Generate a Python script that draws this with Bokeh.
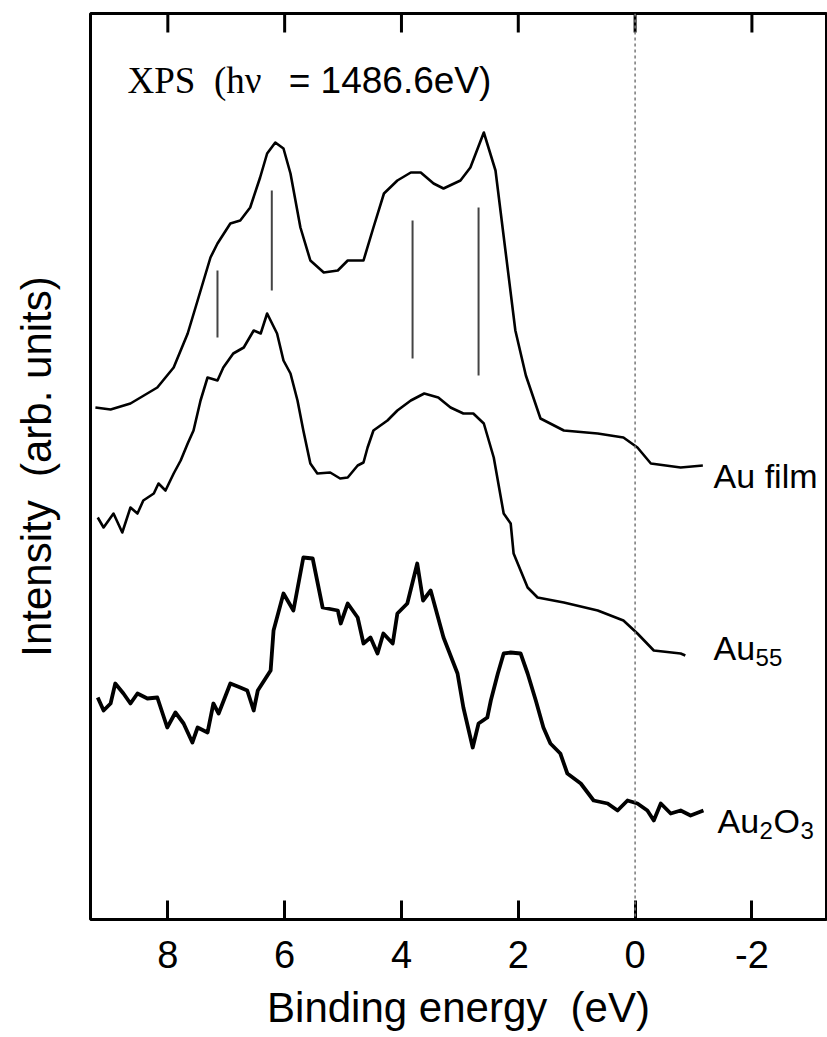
from bokeh.plotting import figure
from bokeh.models import (Range1d, FixedTicker, Span, ColumnDataSource,
                          CustomJSTickFormatter)
from bokeh.core.properties import value
from bokeh.embed import file_html
from bokeh.resources import INLINE

# ---------------- data (binding energy in eV, intensity in arb. units) ----------------
au_film_energy = [9.24, 8.98, 8.64, 8.18, 7.90, 7.66, 7.49, 7.27, 7.15, 6.93, 6.76, 6.59,
                  6.42, 6.30, 6.16, 6.02, 5.90, 5.73, 5.56, 5.33, 5.09, 4.92, 4.65, 4.48,
                  4.30, 4.07, 3.84, 3.67, 3.45, 3.28, 2.99, 2.82, 2.59, 2.39, 2.22, 2.05,
                  1.87, 1.62, 1.22, 0.64, 0.20, -0.04, -0.27, -0.78, -1.16]
au_film_intensity = [512, 510, 516, 532, 552, 586, 619, 662, 676, 696, 699, 712,
                     742, 766, 777, 771, 746, 692, 659, 647, 649, 659, 659, 692,
                     726, 739, 747, 747, 736, 731, 739, 752, 787, 749, 669, 589,
                     544, 501, 489, 486, 482, 472, 456, 452, 454]

au55_energy = [9.20, 9.10, 8.93, 8.78, 8.64, 8.52, 8.42, 8.24, 8.16, 8.04, 7.90, 7.78,
               7.66, 7.56, 7.44, 7.32, 7.15, 7.05, 6.88, 6.70, 6.53, 6.41, 6.30, 6.13,
               6.02, 5.90, 5.78, 5.68, 5.56, 5.44, 5.22, 5.05, 4.92, 4.75, 4.65, 4.58,
               4.48, 4.24, 4.07, 3.84, 3.61, 3.37, 3.16, 2.94, 2.77, 2.59, 2.42, 2.25,
               2.13, 2.08, 1.84, 1.67, 1.22, 0.64, 0.20, -0.04, -0.32, -0.78, -0.86]
au55_intensity = [402, 392, 406, 387, 412, 406, 419, 426, 436, 429, 446, 459,
                  476, 489, 519, 542, 539, 552, 566, 572, 589, 586, 606, 586,
                  559, 546, 519, 489, 456, 446, 447, 441, 442, 454, 457, 472,
                  489, 499, 509, 519, 526, 522, 512, 506, 506, 496, 462, 406,
                  396, 366, 332, 322, 317, 309, 299, 286, 269, 266, 264]

au2o3_energy = [9.20, 9.10, 8.98, 8.90, 8.76, 8.64, 8.52, 8.35, 8.18, 8.01, 7.87, 7.73,
                7.58, 7.49, 7.32, 7.22, 7.13, 6.93, 6.76, 6.64, 6.53, 6.46, 6.24, 6.19,
                6.02, 5.85, 5.68, 5.52, 5.35, 5.09, 5.04, 4.92, 4.75, 4.65, 4.53, 4.41,
                4.31, 4.15, 4.07, 3.90, 3.73, 3.63, 3.50, 3.28, 3.04, 2.94, 2.78, 2.68,
                2.53, 2.47, 2.35, 2.25, 2.13, 1.96, 1.84, 1.70, 1.57, 1.45, 1.28, 1.16,
                0.93, 0.71, 0.47, 0.30, 0.13, -0.04, -0.21, -0.32, -0.44, -0.61, -0.78,
                -0.95, -1.17]
au2o3_intensity = [222, 209, 216, 236, 226, 216, 226, 221, 222, 192, 207, 196,
                   177, 192, 187, 216, 206, 236, 232, 229, 209, 229, 249, 289,
                   326, 309, 362, 361, 312, 309, 296, 316, 302, 276, 282, 266,
                   286, 276, 306, 316, 356, 319, 329, 282, 246, 212, 172, 196,
                   202, 219, 246, 266, 267, 266, 246, 219, 192, 176, 166, 146,
                   136, 119, 116, 109, 119, 116, 109, 99, 116, 106, 109,
                   104, 109]

# vertical marker lines (peak positions of the Au film)
peak_energies = [7.15, 6.22, 3.81, 2.68]
peak_top = [649, 729, 699, 712]
peak_bottom = [582, 629, 561, 544]

tick_values = [8, 6, 4, 2, 0, -2]

SANS = "Liberation Sans"
SERIF = "Liberation Serif"
NB = "\u00a0"

X_START, X_END = 9.324, -3.277
Y_START, Y_END = 0, 906
TICK_LEN = 19  # one intensity unit is one screen pixel

# ---------------- figure ----------------
p = figure(width=827, height=1037, output_backend="svg", toolbar_location=None,
           x_range=Range1d(X_START, X_END), y_range=Range1d(Y_START, Y_END),
           min_border_left=90, min_border_right=1, min_border_top=13,
           min_border_bottom=118)
p.background_fill_color = "white"
p.border_fill_color = "white"
p.grid.visible = False
p.outline_line_color = "black"
p.outline_line_width = 3

xb = p.xaxis[0]
xb.ticker = FixedTicker(ticks=tick_values)
xb.formatter = CustomJSTickFormatter(code="return String(tick);")
xb.major_tick_in = TICK_LEN
xb.major_tick_out = 0
xb.major_tick_line_width = 3
xb.major_tick_line_color = "black"
xb.minor_tick_line_color = None
xb.axis_line_color = None
xb.major_label_text_font = SANS
xb.major_label_text_font_size = "38px"
xb.major_label_text_color = "black"
xb.major_label_standoff = 21
xb.axis_label = "Binding energy" + NB + NB + "(eV)"
xb.axis_label_text_font = SANS
xb.axis_label_text_font_size = "42px"
xb.axis_label_text_font_style = "normal"
xb.axis_label_text_color = "black"
xb.axis_label_standoff = 13

yl = p.yaxis[0]
yl.ticker = FixedTicker(ticks=[])
yl.major_tick_line_color = None
yl.minor_tick_line_color = None
yl.axis_line_color = None
yl.major_label_standoff = 0
yl.axis_label = "Intensity" + NB + NB + "(arb. units)"
yl.axis_label_text_font = SANS
yl.axis_label_text_font_size = "42px"
yl.axis_label_text_font_style = "normal"
yl.axis_label_text_color = "black"
yl.axis_label_standoff = 31

# inward tick marks on the top frame edge, at the same tick values
p.segment(x0=tick_values, y0=[Y_END] * len(tick_values),
          x1=tick_values, y1=[Y_END - TICK_LEN] * len(tick_values),
          line_color="black", line_width=3)

# Fermi level (0 eV) dotted line
p.add_layout(Span(location=0, dimension="height", line_color="#777777",
                  line_width=1.5, line_dash="3 3"))

# spectra
src_film = ColumnDataSource(dict(x=au_film_energy, y=au_film_intensity))
src_55 = ColumnDataSource(dict(x=au55_energy, y=au55_intensity))
src_ox = ColumnDataSource(dict(x=au2o3_energy, y=au2o3_intensity))
p.line("x", "y", source=src_film, line_color="black", line_width=2.6, line_join="round")
p.line("x", "y", source=src_55, line_color="black", line_width=2.6, line_join="round")
p.line("x", "y", source=src_ox, line_color="black", line_width=3.8, line_join="round")

# peak markers
p.segment(x0=peak_energies, y0=peak_bottom, x1=peak_energies, y1=peak_top,
          line_color="#444444", line_width=2)

# title text
p.text(x=[8.69], y=[839], text=["XPS" + NB + NB + "(h\u03bd"], text_font=value(SERIF),
       text_font_size="37px", text_color="black", text_baseline="alphabetic",
       text_align="left")
p.text(x=[5.93], y=[839], text=["= 1486.6eV)"], text_font=value(SANS),
       text_font_size="37px", text_color="black", text_baseline="alphabetic",
       text_align="left")

# series labels
lab_kw = dict(text_font=value(SANS), text_color="black", text_baseline="alphabetic",
              text_align="left")
p.text(x=[-1.344], y=[444], text=["Au film"], text_font_size="34px", **lab_kw)

p.text(x=[-1.344], y=[272], text=["Au"], text_font_size="34px", **lab_kw)
p.text(x=[-1.344], y=[262], text=["55"], text_font_size="24px", x_offset=42, **lab_kw)

p.text(x=[-1.412], y=[99], text=["Au"], text_font_size="34px", **lab_kw)
p.text(x=[-1.412], y=[89], text=["2"], text_font_size="24px", x_offset=42, **lab_kw)
p.text(x=[-1.412], y=[99], text=["O"], text_font_size="34px", x_offset=56, **lab_kw)
p.text(x=[-1.412], y=[89], text=["3"], text_font_size="24px", x_offset=83, **lab_kw)

open("out.html", "w").write(file_html(p, INLINE))
